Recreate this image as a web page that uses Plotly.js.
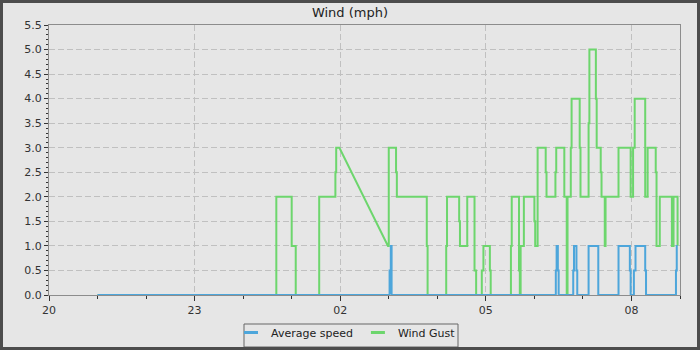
<!DOCTYPE html>
<html><head><meta charset="utf-8">
<script src="https://cdn.plot.ly/plotly-3.0.1.min.js"></script>
<style>
html,body{margin:0;padding:0;background:#e6e6e6;}
#chart{width:694px;height:344px;border:3px solid #4d4d4d;}
</style></head><body><div id="chart"></div>
<script>
// Times are clock times; evening (>=12h) belongs to day 1, morning to day 2.
const gustTimes = ["21:00","00:41","00:41","01:00","01:00","01:05","01:05","01:34","01:34","01:54","01:54","01:55","01:55","01:59",
"02:59","03:00","03:00","03:09","03:09","03:10","03:10","03:47","03:47","03:48","03:48",
"04:11","04:11","04:12","04:12","04:27","04:27","04:28","04:28","04:37","04:37","04:46","04:46","04:48","04:48",
"04:55","04:55","04:57","04:57","05:05","05:05","05:06","05:06",
"05:31","05:31","05:32","05:32","05:41","05:41","05:42","05:42","05:43","05:43","05:47","05:47",
"06:00","06:00","06:01","06:01","06:04","06:04","06:14","06:14","06:15","06:15","06:26","06:26","06:27","06:27",
"06:37","06:37","06:40","06:40","06:41","06:41","06:45","06:45","06:46","06:46","06:56","06:56","06:57","06:57",
"07:07","07:07","07:08","07:08","07:16","07:16","07:17","07:17","07:22","07:22","07:23","07:23",
"07:27","07:27","07:28","07:28","07:44","07:44","07:59","07:59","08:02","08:02","08:04","08:04",
"08:17","08:17","08:20","08:20","08:30","08:30","08:31","08:31","08:35","08:35","08:50","08:50","08:52","08:52","08:57","08:57"];
const gustValues = [0,0,2,2,1,1,0,0,2,2,2.5,2.5,3,3,
1,1,3,3,2.5,2.5,2,2,1,1,0,
0,1,1,2,2,1.5,1.5,1,1,2,2,0.5,0.5,0,
0,0.5,0.5,1,1,0.5,0.5,0,
0,1,1,2,2,0.5,0.5,0,0,1,1,2,
2,1.5,1.5,1,1,3,3,2.5,2.5,2,2,2.5,2.5,3,
3,2,2,0,0,2,2,3,3,4,4,3,3,2,
2,3.5,3.5,5,5,4,4,3,3,2.5,2.5,2,
2,1,1,2,2,3,3,2,2,3,3,4,
4,2,2,3,3,2.5,2.5,1,1,2,2,1,1,2,2,1];

const avgTimes = ["21:00","03:01","03:01","03:02:30","03:02:30","03:03:30","03:03:30",
"06:26:30","06:26:30","06:27:30","06:27:30","06:29","06:29","06:30","06:30",
"06:48","06:48","06:49","06:49","06:52","06:52","06:53","06:53",
"07:07","07:07","07:19","07:19",
"07:44","07:44","07:58","07:58","07:59","07:59","08:03","08:03","08:05","08:05","08:17","08:17","08:18","08:18",
"08:55","08:55","08:56","08:56","08:57"];
const avgValues = [0,0,0.5,0.5,1,1,0,
0,0.5,0.5,1,1,0.5,0.5,0,
0,0.5,0.5,1,1,0.5,0.5,0,
0,1,1,0,
0,1,1,0.5,0.5,0,0,0.5,0.5,1,1,0.5,0.5,0,
0,0.5,0.5,1,1];

const seriesNames = ["Average speed","Wind Gust"];
const seriesColors = ["#4da6db","#6dd66d"];
const xStart = "20:00", xEnd = "09:00";

function toDate(t){
  const h = parseInt(t.slice(0,2),10);
  const day = h >= 12 ? "2024-01-01" : "2024-01-02";
  return day + " " + (t.length === 5 ? t + ":00" : t);
}

const FONT = "DejaVu Sans, Verdana, sans-serif";
const traces = [
  {x: gustTimes.map(toDate), y: gustValues, mode:"lines", name: seriesNames[1], showlegend:false,
   line:{color: seriesColors[1], width:2}, hoverinfo:"skip"},
  {x: avgTimes.map(toDate), y: avgValues, mode:"lines", name: seriesNames[0], showlegend:false,
   line:{color: seriesColors[0], width:2}, hoverinfo:"skip"},
  {x:[null], y:[null], mode:"markers", name: seriesNames[0],
   marker:{symbol:"line-ew-open", size:10, color: seriesColors[0], line:{width:3, color: seriesColors[0]}}},
  {x:[null], y:[null], mode:"markers", name: seriesNames[1],
   marker:{symbol:"line-ew-open", size:10, color: seriesColors[1], line:{width:3, color: seriesColors[1]}}}
];

// plot area (div coords): left 46, right 677, top 22, bottom 292
const PW = 631, PH = 270;
const legendBox = {type:"rect", xref:"paper", yref:"paper", layer:"above",
  x0:(241-46)/PW, x1:(455-46)/PW, y0:(292-344)/PH, y1:(292-321)/PH,
  line:{color:"#666", width:1}, fillcolor:"rgba(0,0,0,0)"};

const grid = {showgrid:true, gridcolor:"#c0c0c0", gridwidth:1, griddash:"6px,3px"};
const layout = {
  width:694, height:344,
  margin:{l:46, r:17, t:22, b:52, autoexpand:false},
  paper_bgcolor:"#e6e6e6", plot_bgcolor:"#e6e6e6",
  font:{family:FONT, size:11, color:"#333"},
  title:{text:"Wind (mph)", x:0.5, xref:"container", xanchor:"center",
         y:1-9/344, yref:"container", yanchor:"middle", automargin:false,
         font:{family:FONT, size:13, color:"#222"}},
  xaxis:Object.assign({
    type:"date", range:[toDate(xStart), toDate(xEnd)],
    tick0: toDate(xStart), dtick: 3*3600000, tickformat:"%H",
    ticks:"outside", ticklen:5, tickcolor:"#333", tickwidth:1,
    showline:true, linecolor:"#8c8c8c", linewidth:1, mirror:true, zeroline:false,
    minor:{dtick:3600000, ticks:"outside", ticklen:3, tickcolor:"#333", showgrid:false},
    tickfont:{family:FONT, size:11, color:"#333"}, fixedrange:true, automargin:false
  }, grid),
  yaxis:Object.assign({
    range:[0,5.5], dtick:0.5, tick0:0, tickformat:".1f",
    ticks:"outside", ticklen:4, tickcolor:"#333", tickwidth:1,
    showline:true, linecolor:"#8c8c8c", linewidth:1, mirror:true, zeroline:false,
    minor:{dtick:0.1, ticks:"outside", ticklen:2, tickcolor:"#333", showgrid:false},
    tickfont:{family:FONT, size:11, color:"#333"}, fixedrange:true, automargin:false
  }, grid),
  shapes:[legendBox],
  showlegend:true,
  legend:{orientation:"h", xref:"container", x:343/694, xanchor:"center",
    yref:"container", y:-3/344, yanchor:"bottom",
    bgcolor:"rgba(0,0,0,0)", borderwidth:0,
    font:{family:FONT, size:11, color:"#222"}, itemwidth:30, tracegroupgap:0}
};
Plotly.newPlot("chart", traces, layout, {staticPlot:true, displayModeBar:false});
</script></body></html>
